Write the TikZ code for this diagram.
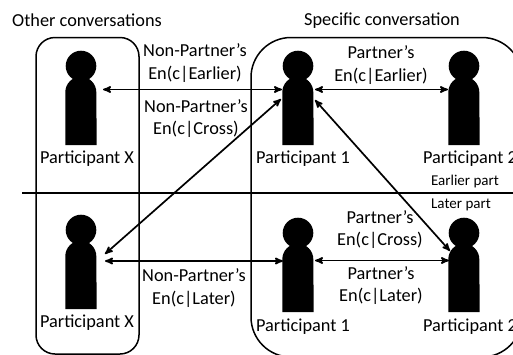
\documentclass[tikz,border=0pt]{standalone}
\usepackage{fontspec}
\setmainfont{Carlito}
\usepackage{tikz}
\usetikzlibrary{arrows}

\tikzset{
  head/.style = {circle, fill=black, minimum size=30.6pt, inner sep=0pt},
  torso/.style = {rectangle, minimum width=31pt, minimum height=68pt, inner sep=0pt},
  txt/.style = {font=\fontsize{18.3}{18.3}\selectfont, inner sep=0pt, anchor=mid, yshift=-2pt},
  smalltxt/.style = {font=\fontsize{15}{15}\selectfont, inner sep=0pt, anchor=mid, yshift=-2.5pt},
  group/.style = {draw, line width=1.5pt},
  link/.style = {<->, >=stealth', line width=1.7pt},
}
% person with a rounded top; #1 name, #2 x, #3 y of the head centre
\newcommand{\person}[3]{
  \node[head] (#1h) at (#2,#3) {};
  \node[torso] (#1) at (#2,#3+45) {};
  \fill (#1.south west) -- ++(0,-53) arc (180:360:15.5) -- (#1.south east) -- cycle;
}

\begin{document}
\begin{tikzpicture}[x=1pt, y=-1pt]
\clip (0,0) rectangle (513,354);

\draw[group, rounded corners=19pt] (36,37.5) rectangle (139,354);
\draw[group, rounded corners=40pt] (251,37.5) rectangle (522,357);
\draw[line width=2pt] (22,192.7) -- (513,192.7);

\person{xa}{81}{66}
\person{pa}{298}{66}
\person{qa}{464}{66}
\person{xb}{81}{230}
\person{pb}{298}{233}
\person{qb}{464}{233}

\coordinate (xar) at (103,89.5);
\coordinate (pal) at (282,89.5);
\coordinate (par) at (315,89.5);
\coordinate (qal) at (448,89.5);
\coordinate (pad) at (281,99);
\coordinate (xbd) at (105,254);
\coordinate (pae) at (315,100);
\coordinate (qbd) at (450,251);
\coordinate (xbr) at (105,261);
\coordinate (pbl) at (283,261);
\coordinate (pbr) at (315,260.5);
\coordinate (qbl) at (449,260.5);

\draw[link] (xar) -- (pal);
\draw[link] (par) -- (qal);
\draw[link] (xbd) -- (pad);
\draw[link] (pae) -- (qbd);
\draw[link] (xbr) -- (pbl);
\draw[link] (pbr) -- (qbl);

\node[txt] (other) at (87,22) {Other conversations};
\node[txt] (specific) at (382,21) {Specific conversation};
\node[txt] (xat) at (87,159) {Participant X};
\node[txt] (pat) at (303,159) {Participant 1};
\node[txt] (qat) at (470,159) {Participant 2};
\node[txt] (xbt) at (87,323) {Participant X};
\node[txt] (pbt) at (303,327) {Participant 1};
\node[txt] (qbt) at (470,327) {Participant 2};

\node[txt] (l1) at (195,52) {Non-Partner’s};
\node[txt] (l2) at (195,75) {En(c|Earlier)};
\node[txt] (l3) at (196,108) {Non-Partner’s};
\node[txt] (l4) at (196,130) {En(c|Cross)};
\node[txt] (l5) at (194,277) {Non-Partner’s};
\node[txt] (l6) at (194,300) {En(c|Later)};
\node[txt] (l7) at (381,54) {Partner’s};
\node[txt] (l8) at (381,77) {En(c|Earlier)};
\node[txt] (l9) at (380,219) {Partner’s};
\node[txt] (l10) at (380,241) {En(c|Cross)};
\node[txt] (l11) at (381,275) {Partner’s};
\node[txt] (l12) at (381,297) {En(c|Later)};

\node[smalltxt] (early) at (465,181) {Earlier part};
\node[smalltxt] (late) at (461,204) {Later part};
\end{tikzpicture}
\end{document}
